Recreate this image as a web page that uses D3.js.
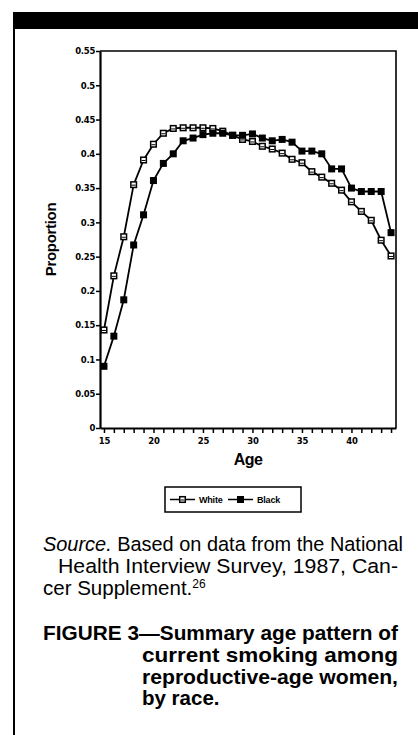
<!DOCTYPE html>
<html>
<head>
<meta charset="utf-8">
<script src="https://cdn.jsdelivr.net/npm/d3@7"></script>
<style>
  html, body { margin: 0; padding: 0; background: #fff; }
  svg { display: block; }
</style>
</head>
<body>
<div id="chart"></div>
<script>
// ages on the x axis
const ages = [15, 16, 17, 18, 19, 20, 21, 22, 23, 24, 25, 26, 27, 28, 29,
              30, 31, 32, 33, 34, 35, 36, 37, 38, 39, 40, 41, 42, 43, 44];

// proportion currently smoking
const white = [0.143, 0.222, 0.279, 0.355, 0.391, 0.414, 0.430, 0.437, 0.438, 0.438,
               0.438, 0.437, 0.433, 0.427, 0.421, 0.418, 0.411, 0.407, 0.401, 0.392,
               0.387, 0.374, 0.366, 0.357, 0.347, 0.330, 0.316, 0.303, 0.274, 0.251];
const black = [0.090, 0.134, 0.187, 0.267, 0.311, 0.361, 0.386, 0.400, 0.419, 0.423,
               0.428, 0.430, 0.430, 0.427, 0.427, 0.429, 0.423, 0.419, 0.421, 0.417,
               0.404, 0.404, 0.400, 0.378, 0.378, 0.350, 0.345, 0.345, 0.345, 0.285];

const yTicks = [0, 0.05, 0.1, 0.15, 0.2, 0.25, 0.3, 0.35, 0.4, 0.45, 0.5, 0.55];
const yTickLabels = ["0", "0.05", "0.1", "0.15", "0.2", "0.25", "0.3", "0.35", "0.4", "0.45", "0.5", "0.55"];
const xLabelTicks = [15, 20, 25, 30, 35, 40];

const sourceLines = ["Health Interview Survey, 1987, Can-"];
const captionLines = ["current smoking among", "reproductive-age women,", "by race."];

const W = 418, H = 735;
const svg = d3.select("#chart").append("svg")
    .attr("width", W)
    .attr("height", H);

// page frame: black bar on top and rule down the left
svg.append("rect").attr("x", 13).attr("y", 12).attr("width", W - 13).attr("height", 17).attr("fill", "#000");
svg.append("line").attr("x1", 14).attr("x2", 14).attr("y1", 12).attr("y2", H)
    .attr("stroke", "#000").attr("stroke-width", 2);

const x = d3.scaleLinear().domain([14.6, 44.5]).range([100, 396]);
const y = d3.scaleLinear().domain([0, 0.55]).range([428, 51]);

// top and right borders of the plot box
svg.append("path")
    .attr("d", `M${x.range()[0]},${y(0.55)}H${x.range()[1]}V${y(0)}`)
    .attr("fill", "none").attr("stroke", "#000").attr("stroke-width", 1.6);

const yAxis = svg.append("g")
    .attr("transform", `translate(${x.range()[0]},0)`)
    .call(d3.axisLeft(y).tickValues(yTicks).tickSize(4).tickSizeOuter(0).tickPadding(1)
        .tickFormat((d, i) => yTickLabels[i]));

const xAxis = svg.append("g")
    .attr("transform", `translate(0,${y(0)})`)
    .call(d3.axisBottom(x).tickValues(ages).tickSize(5).tickSizeOuter(0).tickPadding(5)
        .tickFormat(d => xLabelTicks.includes(d) ? d : ""));

[yAxis, xAxis].forEach(g => {
    g.select(".domain").attr("stroke-width", 2.2);
    g.selectAll(".tick line").attr("stroke-width", 1.5);
    g.selectAll(".tick text")
        .attr("font-family", "DejaVu Sans")
        .attr("font-weight", "bold")
        .attr("font-size", 8.5)
        .attr("letter-spacing", -0.3)
        .attr("fill", "#000");
});

// axis titles
svg.append("text")
    .attr("transform", `translate(56,${(y(0) + y(0.55)) / 2}) rotate(-90)`)
    .attr("text-anchor", "middle")
    .attr("font-family", "Liberation Sans")
    .attr("font-weight", "bold")
    .attr("font-size", 15)
    .attr("letter-spacing", -0.3)
    .text("Proportion");

svg.append("text")
    .attr("x", 248).attr("y", 465)
    .attr("text-anchor", "middle")
    .attr("font-family", "Liberation Sans")
    .attr("font-weight", "bold")
    .attr("font-size", 16)
    .attr("letter-spacing", -0.5)
    .text("Age");

// series
const line = d3.line().x((d, i) => x(ages[i])).y(d => y(d));
const ms = 7;

function openMarker(g, cx, cy) {
    g.append("rect").attr("x", cx - ms / 2 + 0.7).attr("y", cy - ms / 2 + 0.7)
        .attr("width", ms - 1.4).attr("height", ms - 1.4)
        .attr("fill", "#fff").attr("stroke", "#000").attr("stroke-width", 1.5);
    g.append("line").attr("x1", cx - 2).attr("x2", cx + 2).attr("y1", cy + 0.5).attr("y2", cy + 0.5)
        .attr("stroke", "#000").attr("stroke-width", 1);
}
function filledMarker(g, cx, cy) {
    g.append("rect").attr("x", cx - ms / 2).attr("y", cy - ms / 2)
        .attr("width", ms).attr("height", ms).attr("fill", "#000");
}

const series = [
    { name: "White", values: white, marker: openMarker },
    { name: "Black", values: black, marker: filledMarker }
];

series.forEach(s => {
    svg.append("path")
        .datum(s.values)
        .attr("d", line)
        .attr("fill", "none")
        .attr("stroke", "#000")
        .attr("stroke-width", 1.8);
});
series.forEach(s => {
    const g = svg.append("g");
    s.values.forEach((v, i) => s.marker(g, x(ages[i]), y(v)));
});

// legend
const legend = svg.append("g");
legend.append("rect").attr("x", 165).attr("y", 487).attr("width", 136).attr("height", 25)
    .attr("fill", "#fff").attr("stroke", "#000").attr("stroke-width", 1.5);
let lx = 170;
series.forEach(s => {
    legend.append("line").attr("x1", lx).attr("x2", lx + 25).attr("y1", 499.5).attr("y2", 499.5)
        .attr("stroke", "#000").attr("stroke-width", 1.5);
    s.marker(legend, lx + 12.5, 499.5);
    legend.append("text")
        .attr("x", lx + 29).attr("y", 503)
        .attr("font-family", "Liberation Sans")
        .attr("font-weight", "bold")
        .attr("font-size", 9)
        .attr("letter-spacing", -0.2)
        .text(s.name);
    lx += 58;
});

// source note
const font = "Liberation Sans";
const src1 = svg.append("text")
    .attr("x", 43).attr("y", 551)
    .attr("font-family", font).attr("font-size", 20.5)
    .attr("textLength", 360).attr("lengthAdjust", "spacingAndGlyphs");
src1.append("tspan").attr("font-style", "italic").text("Source.");
src1.append("tspan").text(" Based on data from the National");

svg.append("text")
    .attr("x", 58).attr("y", 573)
    .attr("font-family", font).attr("font-size", 20.5)
    .attr("textLength", 340).attr("lengthAdjust", "spacingAndGlyphs")
    .text(sourceLines[0]);

const src3 = svg.append("text")
    .attr("x", 43).attr("y", 595)
    .attr("font-family", font).attr("font-size", 20.5);
src3.append("tspan").text("cer Supplement.");
src3.append("tspan").attr("font-size", 12).attr("dy", -7).text("26");

// figure caption
svg.append("text")
    .attr("x", 43).attr("y", 640)
    .attr("font-family", font).attr("font-weight", "bold").attr("font-size", 20.5)
    .attr("textLength", 355).attr("lengthAdjust", "spacingAndGlyphs")
    .text("FIGURE 3\u2014Summary age pattern of");

const capWidths = [256, 256, null];
captionLines.forEach((t, i) => {
    const el = svg.append("text")
        .attr("x", 142).attr("y", 662 + i * 21.7)
        .attr("font-family", font).attr("font-weight", "bold").attr("font-size", 20.5)
        .text(t);
    if (capWidths[i]) el.attr("textLength", capWidths[i]).attr("lengthAdjust", "spacingAndGlyphs");
});
</script>
</body>
</html>
